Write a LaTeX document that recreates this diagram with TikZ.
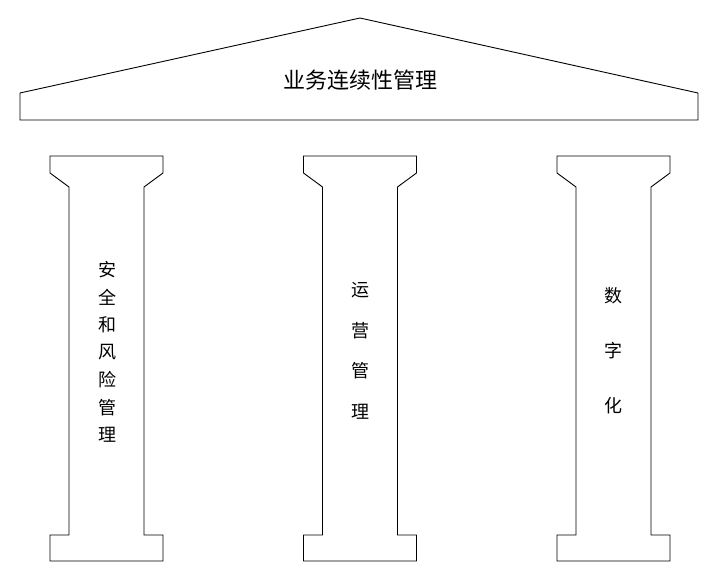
\documentclass[tikz,border=0pt]{standalone}
\usepackage{fontspec}
\newfontfamily\cjk{Noto Sans CJK SC}
\begin{document}
\begin{tikzpicture}[x=1pt,y=-1pt,line width=0.9pt,
  lbl/.style={font=\cjk\fontsize{18}{18}\selectfont,inner sep=0pt}]
\useasboundingbox (0,0) rectangle (720,580);
\draw (20,120) -- (20,93) -- (360,18) -- (698,93) -- (698,120) -- cycle;
\node[font=\cjk\fontsize{22}{22}\selectfont] (title) at (360,80) {业务连续性管理};
\foreach \i/\x in {a/50,b/303.5,c/557}{
  \draw (\x,156) -- (\x+113,156) -- (\x+113,173) -- (\x+94,187) -- (\x+94,535) -- (\x+113,535)
    -- (\x+113,561) -- (\x,561) -- (\x,535) -- (\x+19,535) -- (\x+19,187) -- (\x,173) -- cycle;
}
\foreach \c [count=\k] in {安,全,和,风,险,管,理}
  \node[lbl] (pa\k) at (107,270+27.5*\k-27.5) {\c};
\foreach \c [count=\k] in {运,营,管,理}
  \node[lbl] (pb\k) at (360,290+40.5*\k-40.5) {\c};
\foreach \c [count=\k] in {数,字,化}
  \node[lbl] (pc\k) at (613,296+55*\k-55) {\c};
\end{tikzpicture}
\end{document}
